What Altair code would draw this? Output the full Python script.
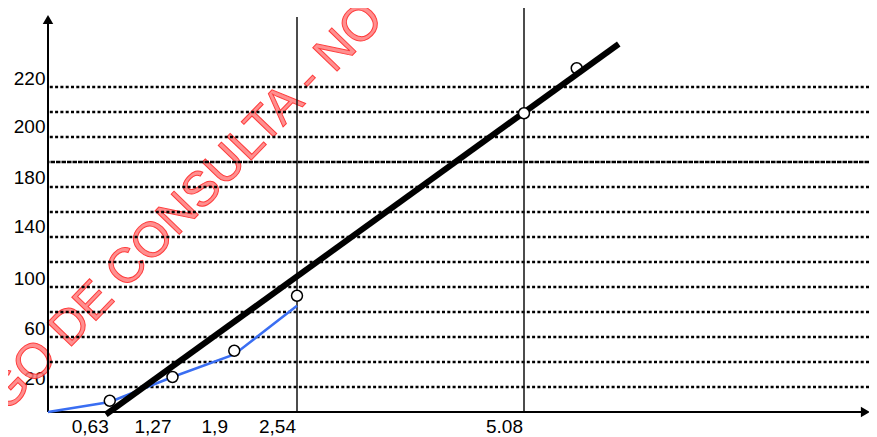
import altair as alt
import pandas as pd

# ---- data ----
x_points = [0.63, 1.27, 1.9, 2.54, 5.08, 5.67]
y_points = [9, 28, 49, 93, 239, 275]
point_under_fit = [False, False, False, False, False, True]

blue_x = [0, 0.63, 1.27, 1.9, 2.54]
blue_y = [0, 8, 28, 46, 85]

fit_x = [0.59, 6.14]
fit_y = [-2, 294.4]

grid_y = [20, 40, 60, 80, 100, 120, 140, 160, 180, 220, 240, 260]
grid_dense_y = [200]

vline_x = [2.54, 5.08]
vline_top = [316, 323.2]

xtick_values = [0.63, 1.27, 1.9, 2.54, 5.08]
xtick_labels = ["0,63", "1,27", "1,9", "2,54", "5.08"]
ytick_values = [26.8, 66.8, 106.8, 148.4, 188, 228.4, 266.8]
ytick_labels = ["20", "60", "100", "140", "180", "200", "220"]

watermark = "GO DE CONSULTA - NO"

# ---- tables ----
pts = pd.DataFrame({"x": x_points, "y": y_points, "under": point_under_fit})
blue = pd.DataFrame({"x": blue_x, "y": blue_y})
fit = pd.DataFrame({"x": fit_x, "y": fit_y})
grid = pd.DataFrame({"y": grid_y})
grid_d = pd.DataFrame({"y": grid_dense_y})
vl = pd.DataFrame({"x": vline_x, "y0": [0] * len(vline_x), "y1": vline_top})
wm = pd.DataFrame({"t": [watermark]})


def label_expr(values, labels):
    expr = "''"
    for v, l in reversed(list(zip(values, labels))):
        expr = f"datum.value === {v} ? '{l}' : ({expr})"
    return expr


FONT = "Liberation Sans"
xscale = alt.Scale(domain=[0, 2.54, 5.08, 8.94], range=[0, 249, 476, 821], nice=False, zero=False)
yscale = alt.Scale(domain=[0, 323.2], nice=False, zero=False)

xaxis = alt.Axis(values=xtick_values, labelExpr=label_expr(xtick_values, xtick_labels),
                 domain=False, ticks=False, grid=False, title=None, labelFontSize=19,
                 labelFont=FONT, labelColor="black", labelPadding=5, labelOffset=-20,
                 labelFlush=False, labelOverlap=False, labelBound=False)
yaxis = alt.Axis(values=ytick_values, labelExpr=label_expr(ytick_values, ytick_labels),
                 domain=False, ticks=False, grid=False, title=None, labelFontSize=19,
                 labelFont=FONT, labelColor="black", labelPadding=3,
                 labelFlush=False, labelOverlap=False, labelBound=False)


def X(f="x"):
    return alt.X(f"{f}:Q", scale=xscale, axis=xaxis)


def Y(f="y"):
    return alt.Y(f"{f}:Q", scale=yscale, axis=yaxis)


def XD(v):
    return alt.X(datum=v, type="quantitative", scale=xscale, axis=xaxis)


def YD(v):
    return alt.Y(datum=v, type="quantitative", scale=yscale, axis=yaxis)


watermark_layer = alt.Chart(wm).mark_text(
    angle=314, fontSize=49, font=FONT, fill="#ff7c7c", stroke="#ff1a1a", strokeWidth=1,
    opacity=0.85, align="center", baseline="middle"
).encode(text="t:N", x=alt.value(137), y=alt.value(199))

grid_layer = alt.Chart(grid).mark_rule(color="black", strokeWidth=2.5, strokeDash=[3, 2.3]).encode(y=Y())
grid_d_layer = alt.Chart(grid_d).mark_rule(color="black", strokeWidth=2.5, strokeDash=[4.5, 1]).encode(y=Y())

vline_layer = alt.Chart(vl).mark_rule(color="#111", strokeWidth=1.5).encode(
    x=X(), y=Y("y0"), y2="y1:Q")

yaxis_line = alt.Chart(wm).mark_rule(color="black", strokeWidth=2).encode(
    x=XD(0), y=YD(0), y2=alt.datum(312))
yaxis_arrow = alt.Chart(wm).mark_point(shape="triangle-up", filled=True, color="black", size=110, opacity=1).encode(
    x=XD(0), y=YD(314))
xaxis_line = alt.Chart(wm).mark_rule(color="black", strokeWidth=2).encode(
    x=XD(0), x2=alt.datum(8.87), y=YD(0))
xaxis_arrow = alt.Chart(wm).mark_point(shape="triangle-right", filled=True, color="black", size=110, opacity=1).encode(
    x=XD(8.9), y=YD(0))

blue_layer = alt.Chart(blue).mark_line(color="#3a6ef2", strokeWidth=2.5).encode(x=X(), y=Y())

pt_style = dict(shape="circle", filled=True, fill="white", stroke="black", strokeWidth=1.5,
                size=120, opacity=1)
pts_under = alt.Chart(pts).transform_filter("datum.under").mark_point(**pt_style).encode(x=X(), y=Y())
fit_layer = alt.Chart(fit).mark_line(color="black", strokeWidth=6, strokeCap="butt").encode(x=X(), y=Y())
pts_over = alt.Chart(pts).transform_filter("!datum.under").mark_point(**pt_style).encode(x=X(), y=Y())

chart = alt.layer(
    watermark_layer, grid_layer, grid_d_layer, vline_layer,
    yaxis_line, yaxis_arrow, xaxis_line, xaxis_arrow,
    blue_layer, pts_under, fit_layer, pts_over
).properties(
    width=821, height=404,
    padding={"left": 40, "top": 0, "right": 0, "bottom": 25},
    autosize=alt.AutoSizeParams(type="none"),
    background="white",
).configure_view(stroke=None)

chart.save("out.html", embed_options={"renderer": "svg", "actions": False})
